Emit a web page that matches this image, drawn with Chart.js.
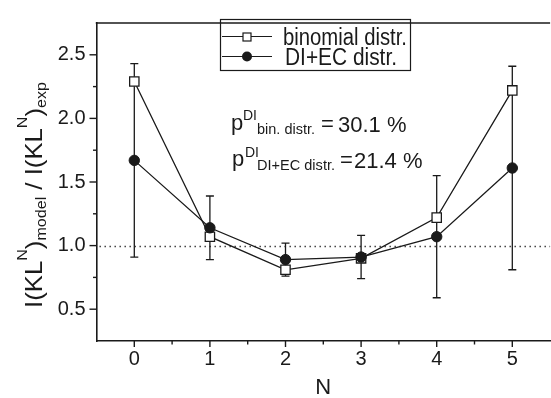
<!DOCTYPE html>
<html><head><meta charset="utf-8">
<script src="https://cdn.jsdelivr.net/npm/chart.js@4.4.1/dist/chart.umd.min.js"></script>
<style>
html,body{margin:0;padding:0;background:#fff;overflow:hidden;width:551px;height:398px;}
#wrap{position:absolute;left:0;top:0;width:558px;height:398px;}
</style></head><body>
<div id="wrap"><canvas id="c" width="558" height="398"></canvas></div>
<script>
// ---- data ----
const categories = [0, 1, 2, 3, 4, 5];
const binomialValues = [2.29, 1.07, 0.81, 0.90, 1.22, 2.22];
const diEcValues = [1.67, 1.14, 0.89, 0.91, 1.07, 1.61];
const diEcErrors = [0.76, 0.25, 0.13, 0.17, 0.48, 0.80];
const yTickLabels = ['0.5', '1.0', '1.5', '2.0', '2.5'];
const xTickLabels = ['0', '1', '2', '3', '4', '5'];
const seriesNames = ['binomial distr.', 'DI+EC distr.'];
const referenceLevel = 1.0;
const pBinomial = '30.1 %';
const pDiEc = '21.4 %';

const FONT = "'Liberation Sans', Arial, sans-serif";
const NARROW = "'Liberation Sans Narrow', 'Liberation Sans', Arial, sans-serif";
const INK = '#1a1a1a';

function txt(ctx, s, x, y, size, maxW) {
  ctx.font = size + 'px ' + FONT;
  if (maxW) ctx.fillText(s, x, y, maxW); else ctx.fillText(s, x, y);
}

const decor = {
  id: 'decor',
  beforeDraw(chart) {
    const c = chart.ctx;
    c.save(); c.fillStyle = '#fff'; c.fillRect(0, 0, chart.width, chart.height); c.restore();
  },
  beforeDatasetsDraw(chart) {
    const c = chart.ctx, x = chart.scales.x, y = chart.scales.y, a = chart.chartArea;
    c.save();
    // dotted reference line
    c.strokeStyle = '#333'; c.lineWidth = 1.4; c.setLineDash([1.4, 3.6]);
    const yr = Math.round(y.getPixelForValue(referenceLevel)) + 0.5;
    c.beginPath(); c.moveTo(a.left + 3, yr); c.lineTo(a.right, yr); c.stroke();
    c.setLineDash([]);
    // error bars
    c.strokeStyle = INK; c.lineWidth = 1.3;
    categories.forEach((n, i) => {
      const px = x.getPixelForValue(n);
      const hi = y.getPixelForValue(diEcValues[i] + diEcErrors[i]);
      const lo = y.getPixelForValue(diEcValues[i] - diEcErrors[i]);
      c.beginPath();
      c.moveTo(px, hi); c.lineTo(px, lo);
      c.moveTo(px - 4, hi); c.lineTo(px + 4, hi);
      c.moveTo(px - 4, lo); c.lineTo(px + 4, lo);
      c.stroke();
    });
    c.restore();
  },
  afterDraw(chart) {
    const c = chart.ctx, x = chart.scales.x, y = chart.scales.y, a = chart.chartArea;
    c.save();
    c.strokeStyle = INK; c.lineWidth = 1.6;
    // top frame
    c.beginPath(); c.moveTo(a.left - 0.75, a.top); c.lineTo(a.right, a.top); c.stroke();
    // tick marks
    c.lineWidth = 1.4;
    y.ticks.forEach(t => {
      if (t.value <= y.min + 1e-9 || t.value >= y.max - 1e-9) return;
      const p = y.getPixelForValue(t.value);
      const major = t.label !== '';
      c.beginPath(); c.moveTo(a.left - (major ? 7 : 3.5), p); c.lineTo(a.left, p); c.stroke();
    });
    x.ticks.forEach(t => {
      if (t.value <= x.min + 1e-9 || t.value >= x.max - 1e-9) return;
      const p = x.getPixelForValue(t.value);
      const major = t.label !== '';
      c.beginPath(); c.moveTo(p, a.bottom); c.lineTo(p, a.bottom + (major ? 6 : 3.5)); c.stroke();
    });
    // legend box
    c.lineWidth = 1.2;
    c.strokeRect(220.5, 19.5, 190, 51);
    // row 1: open square
    c.beginPath(); c.moveTo(222, 36.5); c.lineTo(272, 36.5); c.stroke();
    c.fillStyle = '#fff'; c.fillRect(243, 33, 8, 8); c.strokeRect(243, 33, 8, 8);
    // row 2: filled circle
    c.beginPath(); c.moveTo(222, 56.5); c.lineTo(272, 56.5); c.stroke();
    c.fillStyle = INK; c.beginPath(); c.arc(247, 56.5, 5, 0, Math.PI * 2); c.fill();
    c.fillStyle = INK; c.textBaseline = 'alphabetic'; c.textAlign = 'left';
    txt(c, seriesNames[0], 283, 44.5, 23, 124);
    txt(c, seriesNames[1], 285, 64.5, 23, 112);
    // annotation
    txt(c, 'p', 231, 130, 22);
    txt(c, 'DI', 243, 120, 14);
    txt(c, 'bin. distr.', 257, 134, 15, 58);
    txt(c, '=', 321, 131, 22);
    txt(c, pBinomial, 338, 132, 22, 69);
    txt(c, 'p', 232, 166, 22);
    txt(c, 'DI', 245, 157, 14);
    txt(c, 'DI+EC distr.', 257, 170, 15, 78);
    txt(c, '=', 340, 167, 22);
    txt(c, pDiEc, 354, 168, 22, 69);
    // rotated y title with sub/superscripts
    const segs = [
      ['I(KL', 24, 0], ['N', 15, -15], [')', 24, 0], ['model', 15, 4], [' / ', 24, 0],
      ['I(KL', 24, 0], ['N', 15, -15], [')', 24, 0], ['exp', 15, 4]
    ];
    let total = 0;
    segs.forEach(s => { c.font = s[1] + 'px ' + FONT; s.w = c.measureText(s[0]).width; total += s.w; });
    const target = 226;
    c.translate(42, 308); c.rotate(-Math.PI / 2); c.scale(target / total, 1);
    let cx = 0;
    segs.forEach(s => { c.font = s[1] + 'px ' + FONT; c.fillText(s[0], cx, s[2]); cx += s.w; });
    c.restore();
  }
};

new Chart(document.getElementById('c'), {
  type: 'line',
  data: {
    datasets: [
      {
        label: seriesNames[1],
        data: categories.map((n, i) => ({ x: n, y: diEcValues[i] })),
        borderColor: INK, borderWidth: 1.3, backgroundColor: INK,
        pointStyle: 'circle', pointRadius: 5.2, pointBorderWidth: 1, pointBorderColor: INK, pointBackgroundColor: INK,
        tension: 0
      },
      {
        label: seriesNames[0],
        data: categories.map((n, i) => ({ x: n, y: binomialValues[i] })),
        borderColor: INK, borderWidth: 1.3, backgroundColor: '#fff',
        pointStyle: 'rect', pointRadius: 6.6, pointBorderWidth: 1.3, pointBorderColor: INK, pointBackgroundColor: '#fff',
        tension: 0
      }
    ]
  },
  options: {
    responsive: false, animation: false, devicePixelRatio: 1, events: [],
    layout: { padding: { left: 0, top: 13, right: 1, bottom: 0 } },
    plugins: { legend: { display: false }, tooltip: { enabled: false } },
    scales: {
      x: {
        type: 'linear', min: -0.5, max: 5.5,
        afterFit(s) { s.height = 57; },
        grid: { display: true, drawOnChartArea: false, drawTicks: false },
        border: { display: true, color: INK, width: 1.6 },
        ticks: {
          stepSize: 0.5, autoSkip: false, maxRotation: 0, padding: 6, color: INK,
          font: { family: NARROW, size: 20 },
          callback(v) { const i = categories.indexOf(v); return i >= 0 ? xTickLabels[i] : ''; }
        },
        title: { display: true, text: 'N', color: INK, font: { family: FONT, size: 22 }, padding: { top: 0, bottom: -3 } }
      },
      y: {
        type: 'linear', min: 0.25, max: 2.75,
        afterFit(s) { s.width = 96.5; },
        grid: { display: true, drawOnChartArea: false, drawTicks: false },
        border: { display: true, color: INK, width: 1.6 },
        ticks: {
          stepSize: 0.25, autoSkip: false, padding: 11, color: INK,
          font: { family: NARROW, size: 20 },
          callback(v) {
            if (Math.abs(v * 2 - Math.round(v * 2)) > 1e-6) return '';
            const s = v.toFixed(1); return yTickLabels.includes(s) ? s : '';
          }
        }
      }
    }
  },
  plugins: [decor]
});
</script>
</body></html>
